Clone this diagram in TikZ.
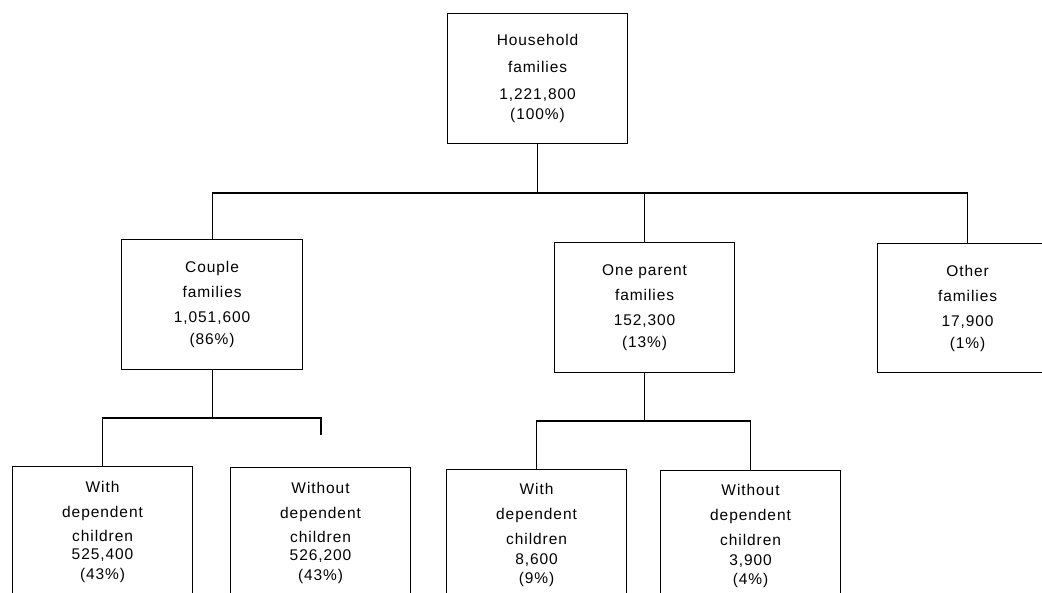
\documentclass[tikz,border=0pt]{standalone}
\usepackage{fontspec}
\setmainfont{Liberation Sans}[LetterSpace=6]
\begin{document}
\begin{tikzpicture}[x=1pt,y=-1pt,
  famblock/.style={draw=black, line width=1.1pt, anchor=north west, inner sep=0pt,
    minimum width=180pt, minimum height=130pt, align=center,
    font=\fontsize{15.5pt}{18pt}\selectfont},
  conn/.style={draw=black, line width=1.1pt}]
\useasboundingbox (0,0) rectangle (1042,593);
\clip (0,0) rectangle (1042,593);
\fill[white] (0,0) rectangle (1042,593);
% boxes
\node[famblock] (hh) at (447,13) {Household\\[9pt]families\\[9pt]1,221,800\\[2pt](100\%)};
\node[famblock, minimum width=181pt] (cp) at (121,239) {Couple\\[7pt]families\\[7pt]1,051,600\\[4pt](86\%)};
\node[famblock] (op) at (554,242) {One parent\\[7pt]families\\[7pt]152,300\\[4pt](13\%)};
\node[famblock, minimum height=129pt] (ot) at (877,243) {Other\\[7pt]families\\[7pt]17,900\\[4pt](1\%)};
\node[famblock] (cw) at (12,466) {With\\[7pt]dependent\\[6pt]children\\[0pt]525,400\\[2pt](43\%)};
\node[famblock] (cwo) at (230,467) {Without\\[7pt]dependent\\[6pt]children\\[0pt]526,200\\[2pt](43\%)};
\node[famblock] (ow) at (446,469) {With\\[7pt]dependent\\[7pt]children\\[2pt]8,600\\[1pt](9\%)};
\node[famblock] (owo) at (660,470) {Without\\[7pt]dependent\\[7pt]children\\[2pt]3,900\\[1pt](4\%)};
% bus coordinates
\coordinate (b1) at (hh.south |- 0,193);
\coordinate (b2) at (cp.south |- 0,418);
\coordinate (b3) at (op.south |- 0,421);
\coordinate (stub) at (321,435);
% connectors level 1
\draw[conn] (hh.south) -- (b1);
\draw[conn] (cp.north) -- (cp.north |- b1) -- (ot.north |- b1) -- (ot.north);
\draw[conn] (op.north) -- (op.north |- b1);
% couple children
\draw[conn] (cp.south) -- (b2);
\draw[conn] (cw.north) -- (cw.north |- b2) -- (stub |- b2) -- (stub);
% one parent children
\draw[conn] (op.south) -- (b3);
\draw[conn] (ow.north) -- (ow.north |- b3) -- (owo.north |- b3) -- (owo.north);
\end{tikzpicture}
\end{document}
